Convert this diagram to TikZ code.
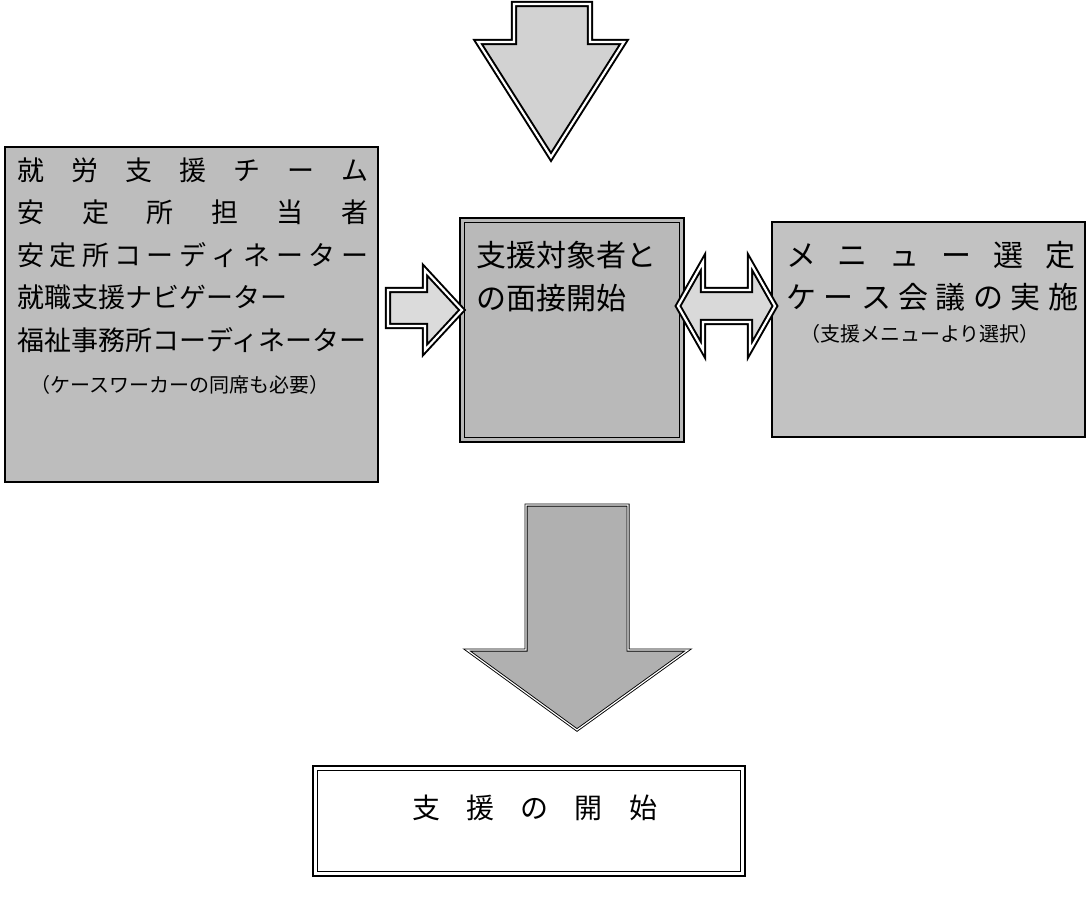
\documentclass[tikz,border=0pt]{standalone}
\usepackage{fontspec}
\setmainfont{Noto Sans CJK JP}
\newcommand\spreadbox[2]{\makebox[#1][s]{#2}}
\tikzset{
  panel/.style={draw=black, line width=1.8pt, fill=gray!52, inner sep=0pt, outer sep=0pt, anchor=north west},
  whitepanel/.style={draw=black, line width=2.8pt, fill=white, inner sep=0pt, outer sep=0pt, anchor=north west},
  innerline/.style={draw=black, line width=1.1pt},
  blockarrow/.style={draw=black, double=white, double distance=2.2pt, line width=2pt, line join=miter},
  thinarrow/.style={draw=black, double=white, double distance=1.2pt, line width=0.9pt, line join=miter},
  jp/.style={inner sep=0pt, anchor=west, text=black},
  big/.style={font=\fontsize{27}{27}\selectfont},
  bigger/.style={font=\fontsize{30}{30}\selectfont},
  small/.style={font=\fontsize{20}{20}\selectfont},
}
\begin{document}
\begin{tikzpicture}[x=1pt, y=-1pt]
\useasboundingbox (0,0) rectangle (1087,900);

% top arrow
\filldraw[blockarrow, fill=gray!35] (514,4) -- (590,4) -- (590,42) -- (624,42) -- (551,157) -- (478,42) -- (514,42) -- cycle;

% left box
\node[panel, minimum width=373pt, minimum height=335pt] (team) at (5,147) {};
\node[jp, big] (t1) at (17,170) {\spreadbox{351pt}{就\hfill 労\hfill 支\hfill 援\hfill チ\hfill ー\hfill ム}};
\node[jp, big] (t2) at (17,212) {\spreadbox{351pt}{安\hfill 定\hfill 所\hfill 担\hfill 当\hfill 者}};
\node[jp, big] (t3) at (17,255) {\spreadbox{351pt}{安\hfill 定\hfill 所\hfill コ\hfill ー\hfill デ\hfill ィ\hfill ネ\hfill ー\hfill タ\hfill ー}};
\node[jp, big] (t4) at (17,297) {就職支援ナビゲーター};
\node[jp, big] (t5) at (17,340) {\spreadbox{351pt}{福祉事務所コーディネーター}};
\node[jp, small] (t6) at (30,385) {（ケースワーカーの同席も必要）};

% middle box
\node[panel, fill=gray!55, line width=2.8pt, minimum width=224pt, minimum height=224pt] (mid) at (460,218) {};
\draw[innerline] ([shift={(4.5pt,-4.5pt)}]mid.north west) rectangle ([shift={(-4.5pt,4.5pt)}]mid.south east);
\node[jp, bigger] (m1) at (476,255) {支援対象者と};
\node[jp, bigger] (m2) at (476,298) {の面接開始};

% right box
\node[panel, fill=gray!48, minimum width=313pt, minimum height=215pt] (menu) at (772,222) {};
\node[jp, bigger] (r1) at (786,255) {\spreadbox{289pt}{メ\hfill ニ\hfill ュ\hfill ー\hfill 選\hfill 定}};
\node[jp, bigger] (r2) at (786,297) {\spreadbox{292pt}{ケ\hfill ー\hfill ス\hfill 会\hfill 議\hfill の\hfill 実\hfill 施}};
\node[jp, small] (r3) at (800,334) {（支援メニューより選択）};

% arrow team -> mid
\filldraw[blockarrow, fill=gray!28] (388,290) -- (425,290) -- (425,270) -- (462,310) -- (425,350) -- (425,326) -- (388,326) -- cycle;

% double arrow mid <-> menu
\filldraw[blockarrow, fill=gray!30] (678,306) -- (703,262) -- (703,290) -- (750,290) -- (750,262) -- (775,306) -- (750,350) -- (750,322) -- (703,322) -- (703,350) -- cycle;

% bottom arrow
\filldraw[thinarrow, fill=gray!62] (526,505) -- (628,505) -- (628,650) -- (688,650) -- (577,730) -- (467,650) -- (526,650) -- cycle;

% bottom box
\node[whitepanel, minimum width=432pt, minimum height=110pt] (start) at (313,766) {};
\draw[innerline] ([shift={(4.5pt,-4.5pt)}]start.north west) rectangle ([shift={(-4.5pt,4.5pt)}]start.south east);
\node[jp, font=\fontsize{28}{28}\selectfont] (s1) at (412,808) {\spreadbox{245pt}{支\hfill 援\hfill の\hfill 開\hfill 始}};
\end{tikzpicture}
\end{document}
